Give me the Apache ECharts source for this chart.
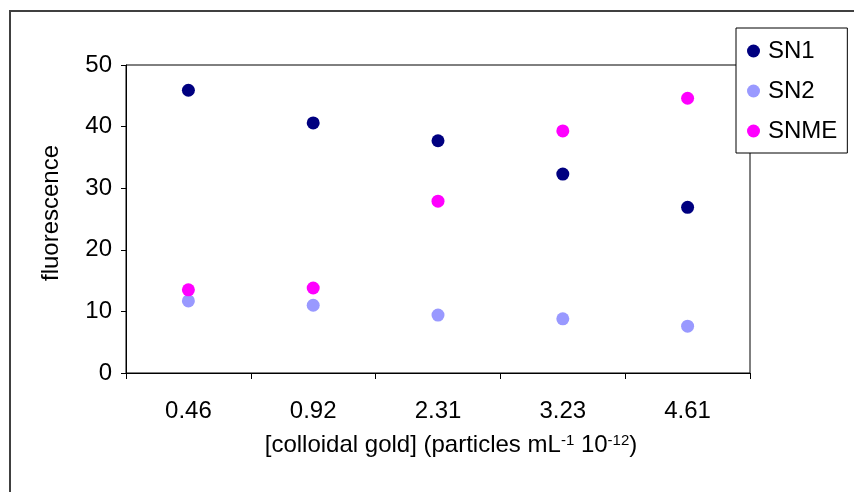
<!DOCTYPE html>
<html>
<head>
<meta charset="utf-8">
<script src="https://cdn.jsdelivr.net/npm/echarts@6/dist/echarts.min.js"></script>
<style>html,body{margin:0;padding:0;background:#fff;}#c{width:854px;height:492px;}</style>
</head>
<body>
<div id="c"></div>
<script>
const categories = ['0.46', '0.92', '2.31', '3.23', '4.61'];
const sn1 = [45.9, 40.6, 37.7, 32.3, 26.9];
const sn2 = [11.7, 11.0, 9.4, 8.8, 7.6];
const snme = [13.5, 13.8, 27.9, 39.3, 44.6];
const yTicks = [0, 10, 20, 30, 40, 50];

const font = 'Liberation Sans, Arial, sans-serif';
const FS = 24;
const chart = echarts.init(document.getElementById('c'));
chart.setOption({
  backgroundColor: '#fff',
  animation: false,
  textStyle: { fontFamily: font, color: '#000' },
  graphic: [{
    type: 'rect', silent: true, z: 100,
    shape: { x: 10, y: 11, width: 1000, height: 1000 },
    style: { fill: 'none', stroke: '#404040', lineWidth: 2 }
  }],
  grid: { left: 126, top: 65, width: 624, height: 308, show: true, borderColor: '#000', borderWidth: 1, backgroundColor: 'transparent' },
  legend: {
    orient: 'vertical', left: 736, top: 28,
    backgroundColor: '#fff', borderColor: '#000', borderWidth: 1,
    padding: [11, 10, 10, 11], itemGap: 16,
    itemWidth: 13, itemHeight: 13, icon: 'circle',
    textStyle: { fontFamily: font, fontSize: FS, color: '#000', padding: [0, 0, 0, 3] },
    data: ['SN1', 'SN2', 'SNME']
  },
  xAxis: {
    type: 'category', data: categories, boundaryGap: true,
    axisLine: { lineStyle: { color: '#000', width: 1 } },
    axisTick: { show: true, length: 6, lineStyle: { color: '#000' } },
    axisLabel: { fontSize: FS, color: '#000', margin: 26, fontFamily: font },
    splitLine: { show: false },
    name: '{a|[colloidal gold] (particles mL}{s|-1}{a| 10}{s|-12}{a|)}',
    nameLocation: 'middle', nameGap: 60,
    nameTextStyle: {
      fontFamily: font, color: '#000', padding: [0, 0, 0, 26],
      rich: {
        a: { fontSize: FS, fontFamily: font, color: '#000' },
        s: { fontSize: 15, fontFamily: font, color: '#000', verticalAlign: 'top', padding: [0, 0, 10, 0] }
      }
    }
  },
  yAxis: {
    type: 'value', min: 0, max: 50, interval: 10,
    axisLine: { show: true, lineStyle: { color: '#000', width: 1 } },
    axisTick: { show: true, length: 5, lineStyle: { color: '#000' } },
    axisLabel: { fontSize: FS, color: '#000', margin: 14, fontFamily: font,
      formatter: v => yTicks.includes(v) ? String(v) : '' },
    splitLine: { show: false },
    name: 'fluorescence', nameLocation: 'middle', nameGap: 63, nameRotate: 90,
    nameTextStyle: { fontSize: FS, fontFamily: font, color: '#000', padding: [0, 0, 0, 12] }
  },
  series: [
    { name: 'SN1', type: 'scatter', data: sn1, symbol: 'circle', symbolSize: 13, itemStyle: { color: '#000080', opacity: 1 } },
    { name: 'SN2', type: 'scatter', data: sn2, symbol: 'circle', symbolSize: 13, itemStyle: { color: '#9999FF', opacity: 1 } },
    { name: 'SNME', type: 'scatter', data: snme, symbol: 'circle', symbolSize: 13, itemStyle: { color: '#FF00FF', opacity: 1 } }
  ]
});
</script>
</body>
</html>
